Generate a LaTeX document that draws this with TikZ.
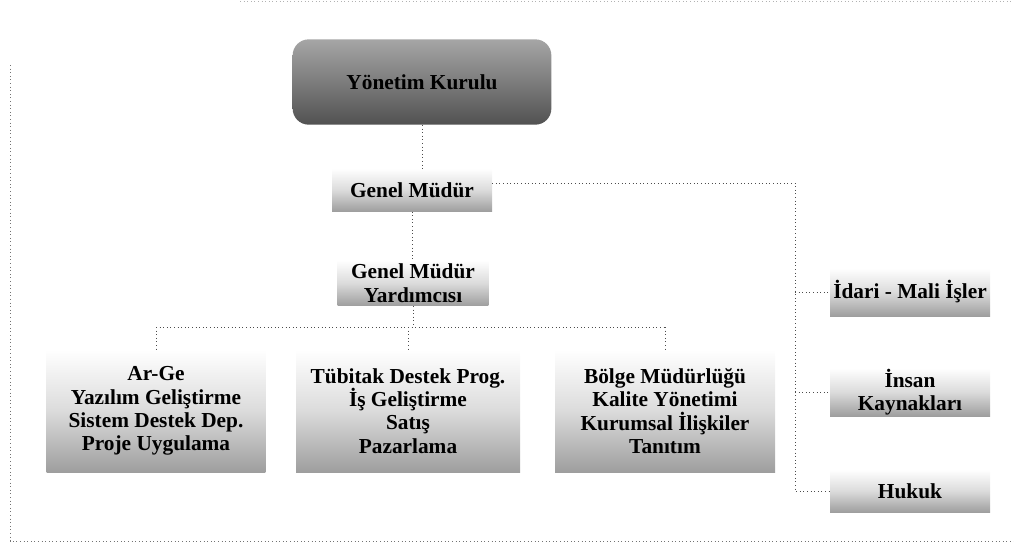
\documentclass[tikz,border=0pt]{standalone}
\usepackage{fontspec}
\setmainfont{Liberation Serif}
\begin{document}
\begin{tikzpicture}[x=0.75pt,y=-0.75pt,
  box/.style={rectangle, inner sep=0pt, align=center, font=\fontsize{16}{17.5}\selectfont\bfseries,
    top color=white, bottom color=black!38, middle color=black!14, text=black},
  topbox/.style={rectangle, rounded corners=12pt, inner sep=0pt, align=center,
    font=\fontsize{16}{17}\selectfont\bfseries, top color=black!35, bottom color=black!68, text=black},
  link/.style={draw=black!70, dotted, line width=0.7pt},
  frame/.style={draw=black!55, dotted, line width=0.7pt}]
\useasboundingbox (0,0) rectangle (1014,551);
% outer frame
\draw[frame] (10,65) -- (10,541) -- (1014,541);
\draw[frame, draw=black!30] (240,1) -- (1014,1);
% nodes
\node[topbox, minimum width=194pt, minimum height=64pt] (yk) at (422,82) {Yönetim Kurulu};
\node[box, minimum width=120pt, minimum height=32pt] (gm) at (412,190) {Genel Müdür};
\node[box, minimum width=113pt, minimum height=34pt, font=\fontsize{16}{18}\selectfont\bfseries] (gmy) at (413,283) {Genel Müdür\\Yardımcısı};
\node[box, minimum width=164pt, minimum height=92pt] (arge) at (156,411) {Ar-Ge\\Yazılım Geliştirme\\Sistem Destek Dep.\\Proje Uygulama};
\node[box, minimum width=168pt, minimum height=92pt] (tub) at (408,411) {Tübitak Destek Prog.\\İş Geliştirme\\Satış\\Pazarlama};
\node[box, minimum width=165pt, minimum height=92pt] (bolge) at (665,411) {Bölge Müdürlüğü\\Kalite Yönetimi\\Kurumsal İlişkiler\\Tanıtım};
\node[box, minimum width=120pt, minimum height=36pt] (idari) at (910,292) {İdari - Mali İşler};
\node[box, minimum width=120pt, minimum height=36pt] (insan) at (910,392) {İnsan\\Kaynakları};
\node[box, minimum width=120pt, minimum height=32pt] (hukuk) at (910,491) {Hukuk};
% coordinates
\coordinate (bus) at (795,183);
\coordinate (hb) at (410,327);
% connectors
\draw[link] (yk.south) -- (yk.south |- gm.north);
\draw[link] (gm.east |- bus) -- (bus) -- (bus |- hukuk.west) -- (hukuk.west);
\draw[link] (bus |- idari.west) -- (idari.west);
\draw[link] (bus |- insan.west) -- (insan.west);
\draw[link] (gm.south) -- (gm.south |- gmy.north);
\draw[link] (gmy.south) -- (gmy.south |- hb);
\draw[link] (arge.north |- hb) -- (bolge.north |- hb);
\draw[link] (arge.north |- hb) -- (arge.north);
\draw[link] (tub.north |- hb) -- (tub.north);
\draw[link] (bolge.north |- hb) -- (bolge.north);
\end{tikzpicture}
\end{document}
